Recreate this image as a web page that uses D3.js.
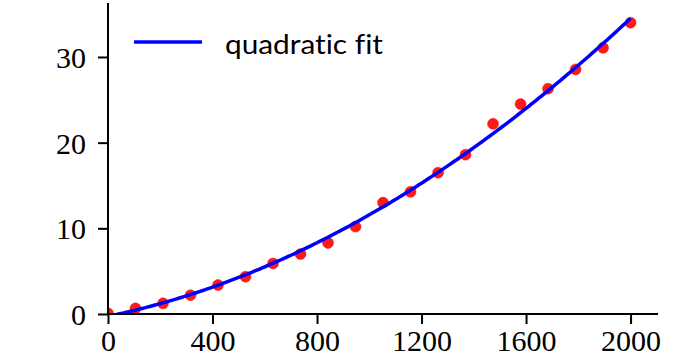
<!DOCTYPE html>
<html><head><meta charset="utf-8">
<script src="https://cdn.jsdelivr.net/npm/d3@7"></script>
<style>body{margin:0;background:#fff;} svg{display:block;} text{font-variant-ligatures:none;font-feature-settings:"liga" 0;}</style>
</head><body><svg id="c" width="677" height="361"></svg>
<script>
const xData = [0,105.26,210.53,315.79,421.05,526.32,631.58,736.84,842.11,947.37,1052.63,1157.89,1263.16,1368.42,1473.68,1578.95,1684.21,1789.47,1894.74,2000];
const yData = [0.08,0.66,1.25,2.2,3.38,4.36,5.9,7.0,8.3,10.2,13.0,14.27,16.5,18.6,22.2,24.5,26.3,28.55,31.07,34.0];
const xTicks = [0,400,800,1200,1600,2000];
const yTicks = [0,10,20,30];
const legendLabel = "quadratic fit";

// least squares quadratic fit from the data
function quadFit(xs, ys){
  let S=[0,0,0,0,0], T=[0,0,0];
  xs.forEach((x,i)=>{const s=x/1000; let p=1; for(let k=0;k<5;k++){S[k]+=p; if(k<3) T[k]+=p*ys[i]; p*=s;}});
  const A=[[S[0],S[1],S[2],T[0]],[S[1],S[2],S[3],T[1]],[S[2],S[3],S[4],T[2]]];
  for(let i=0;i<3;i++){for(let j=i+1;j<3;j++){const f=A[j][i]/A[i][i]; for(let k=i;k<4;k++) A[j][k]-=f*A[i][k];}}
  const c=[0,0,0];
  for(let i=2;i>=0;i--){let s=A[i][3]; for(let k=i+1;k<3;k++) s-=A[i][k]*c[k]; c[i]=s/A[i][i];}
  return x=>{const s=x/1000; return c[0]+c[1]*s+c[2]*s*s;};
}
const fit = quadFit(xData, yData);

const svg = d3.select("#c");
const L=108, R=658, T=3, B=314;
const x = d3.scaleLinear().domain([0,2105]).range([L,R]);
const y = d3.scaleLinear().domain([0,36.3]).range([B,T]);

svg.append("defs").append("clipPath").attr("id","clip").append("rect")
  .attr("x",L).attr("y",T).attr("width",R-L).attr("height",B-T);

const plot = svg.append("g").attr("clip-path","url(#clip)");
plot.selectAll("circle").data(xData).enter().append("circle")
  .attr("cx",(d)=>x(d)).attr("cy",(d,i)=>y(yData[i])).attr("r",5.5)
  .attr("fill","#ff0000").attr("fill-opacity",0.9).attr("stroke","#ff0000").attr("stroke-opacity",0.9).attr("stroke-width",0.5);

const fx = d3.range(0,2000.01,10);
plot.append("path").datum(fx)
  .attr("d", d3.line().x(d=>x(d)).y(d=>y(fit(d))))
  .attr("fill","none").attr("stroke","#0000ff").attr("stroke-width",3.5);

// axes
const xAxis = d3.axisBottom(x).tickValues(xTicks).tickSize(10).tickPadding(6).tickFormat(d3.format("d"));
const gx = svg.append("g").attr("transform",`translate(0,${B})`).call(xAxis);
gx.select(".domain").attr("d",`M${L},0H${R}`).attr("stroke","#000").attr("stroke-width",2);
gx.selectAll(".tick line").attr("stroke-width",2);
gx.selectAll("text").attr("font-family","'Liberation Serif', serif").attr("font-size",30).attr("fill","#000");

const yAxis = d3.axisLeft(y).tickValues(yTicks).tickSize(10).tickPadding(12);
const gy = svg.append("g").attr("transform",`translate(${L},0)`).call(yAxis);
gy.select(".domain").attr("d",`M0,${B}V${T}`).attr("stroke","#000").attr("stroke-width",2);
gy.selectAll(".tick line").attr("stroke-width",2);
gy.selectAll("text").attr("font-family","'Liberation Serif', serif").attr("font-size",30).attr("fill","#000").attr("dy","0.35em");

// legend
const lg = svg.append("g");
lg.append("line").attr("x1",134).attr("x2",202).attr("y1",42).attr("y2",42).attr("stroke","#0000ff").attr("stroke-width",3.5);
lg.append("text").attr("x",225).attr("y",54).text(legendLabel)
  .attr("font-family","Lato, sans-serif").attr("font-size",26).attr("fill","#000")
  .attr("textLength",158).attr("lengthAdjust","spacingAndGlyphs");
</script></body></html>
